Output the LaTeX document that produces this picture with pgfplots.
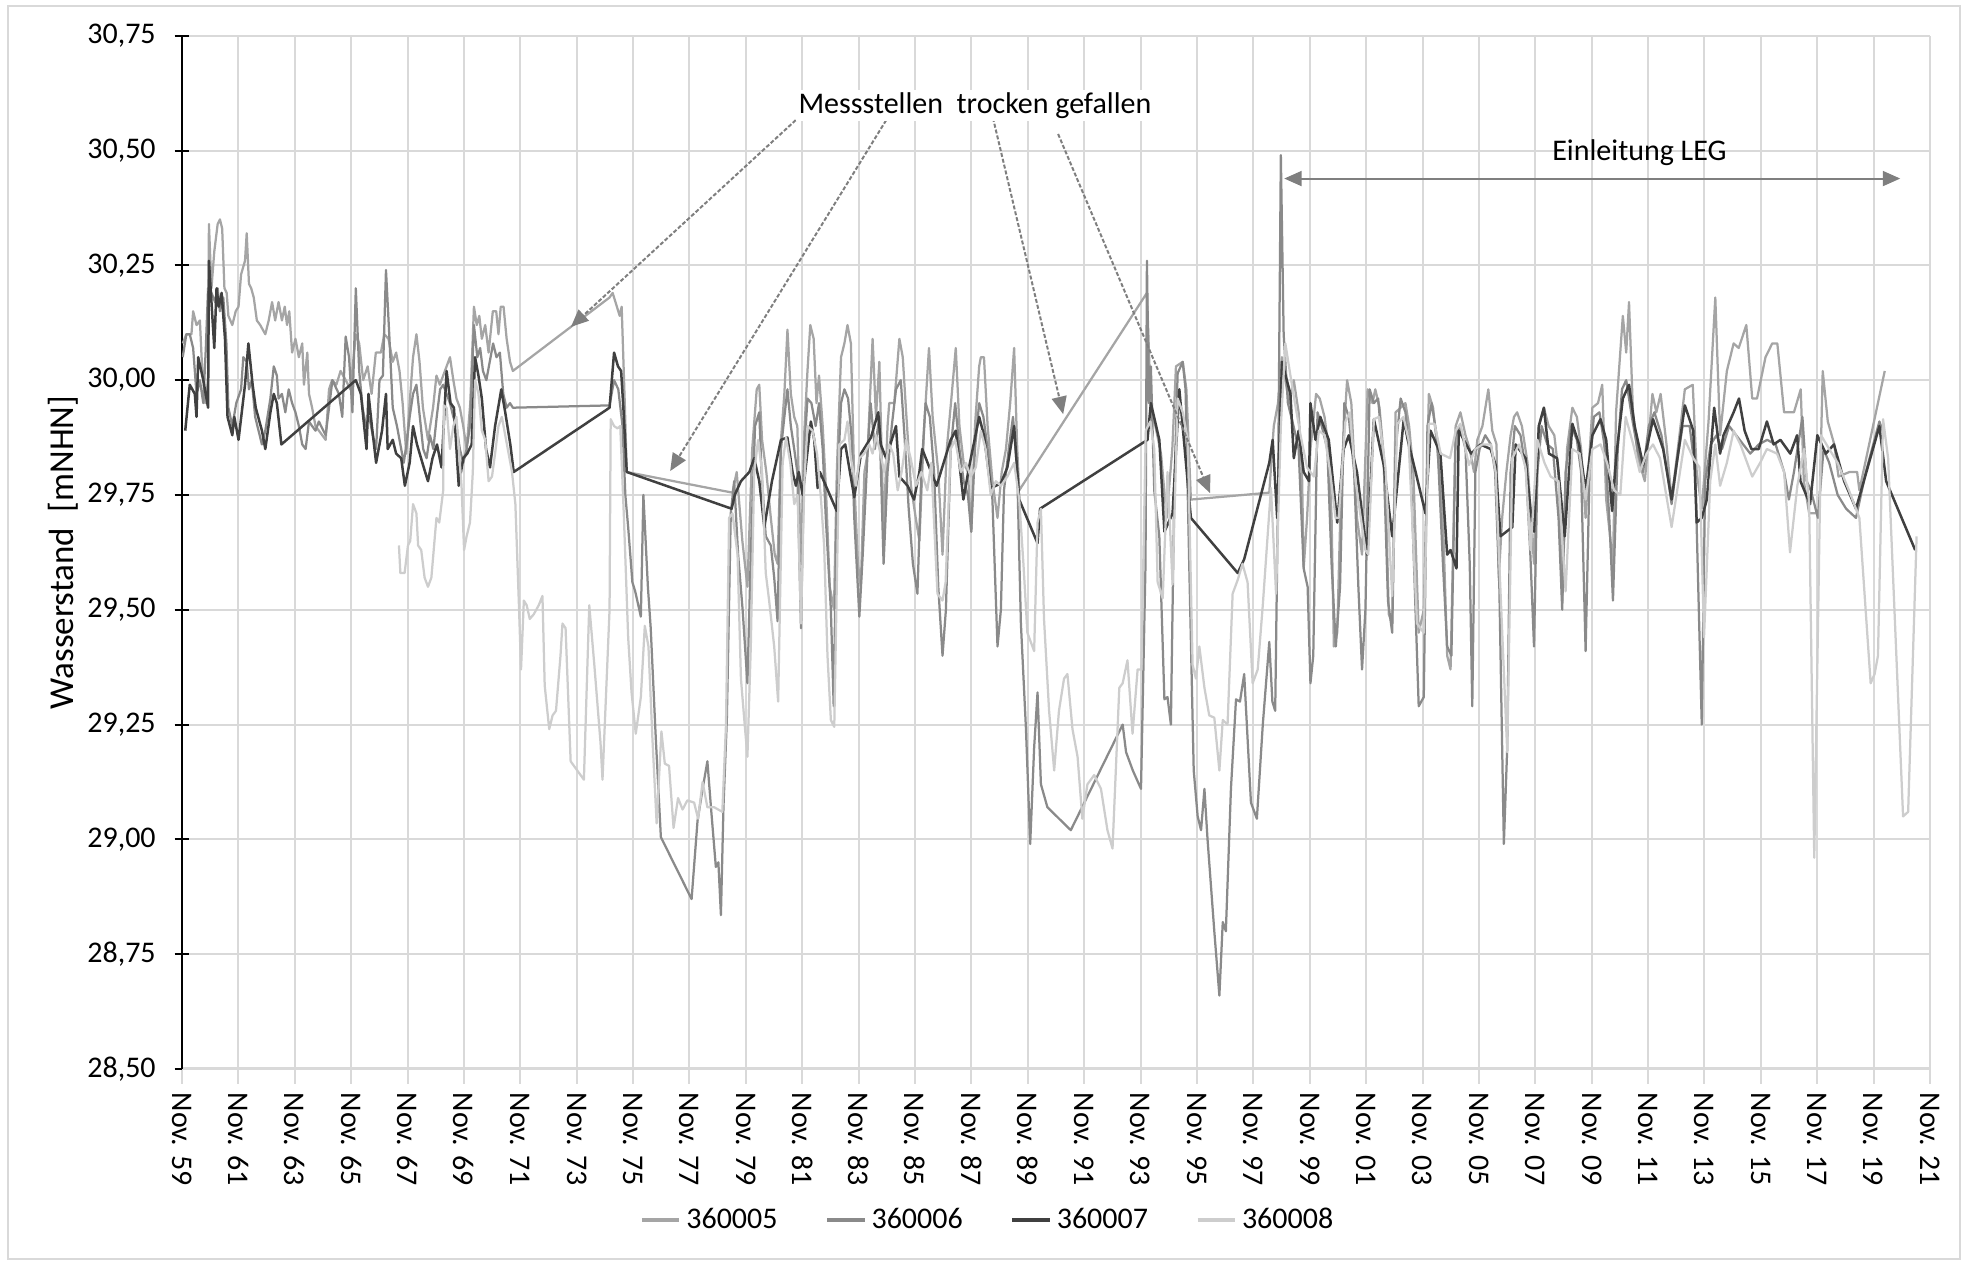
\documentclass[border=0pt]{standalone}
\usepackage{fontspec}
\setmainfont{Carlito}
\usepackage{pgfplots}
\pgfplotsset{compat=1.18}
\usetikzlibrary{arrows.meta}
\definecolor{gridc}{HTML}{D9D9D9}
\definecolor{sA}{HTML}{A5A5A5}
\definecolor{sB}{HTML}{8A8A8A}
\definecolor{sC}{HTML}{404040}
\definecolor{sD}{HTML}{CDCDCD}
\definecolor{annc}{HTML}{7F7F7F}
\begin{document}
\begin{tikzpicture}
\path[use as bounding box] (0,0) rectangle (787.2pt,505.2pt);
\draw[gridc, line width=0.8pt] (3.2pt,1.6pt) rectangle (784pt,502.8pt);
\begin{axis}[
  at={(72.8pt,77.6pt)}, anchor=south west,
  scale only axis, width=699.2pt, height=413.3pt,
  xmin=1959.875, xmax=2021.875, ymin=28.5, ymax=30.75,
  axis lines*=left,
  x axis line style={gridc, line width=1.2pt},
  y axis line style={black, line width=0.8pt},
  grid=major,
  major grid style={gridc, line width=0.8pt},
  major tick length=6pt,
  xtick align=outside, ytick align=center,
  xtick style={gridc, line width=0.8pt},
  ytick style={black, line width=0.8pt},
  xtick={1959.875,1961.875,1963.875,1965.875,1967.875,1969.875,1971.875,1973.875,1975.875,1977.875,1979.875,1981.875,1983.875,1985.875,1987.875,1989.875,1991.875,1993.875,1995.875,1997.875,1999.875,2001.875,2003.875,2005.875,2007.875,2009.875,2011.875,2013.875,2015.875,2017.875,2019.875,2021.875},
  xticklabels={Nov. 59,Nov. 61,Nov. 63,Nov. 65,Nov. 67,Nov. 69,Nov. 71,Nov. 73,Nov. 75,Nov. 77,Nov. 79,Nov. 81,Nov. 83,Nov. 85,Nov. 87,Nov. 89,Nov. 91,Nov. 93,Nov. 95,Nov. 97,Nov. 99,Nov. 01,Nov. 03,Nov. 05,Nov. 07,Nov. 09,Nov. 11,Nov. 13,Nov. 15,Nov. 17,Nov. 19,Nov. 21},
  ytick={28.5,28.75,29,29.25,29.5,29.75,30,30.25,30.5,30.75},
  /pgf/number format/assume math mode=true,
  ticklabel style={font=\fontsize{12}{14}\selectfont},
  yticklabel style={xshift=-4pt, /pgf/number format/.cd, fixed, fixed zerofill, precision=2, use comma},
  xticklabel style={rotate=-90, anchor=west},
  legend style={at={(axis description cs:0.4617,-0.1461)}, anchor=center, draw=none, fill=none,
    font=\fontsize{12}{14}\selectfont, /tikz/every even column/.append style={column sep=17pt}},
  legend columns=4,
  legend image code/.code={\draw[#1, line width=1.6pt] (0pt,0pt) -- (15pt,0pt);},
  every axis plot/.append style={line width=0.9pt, line join=round},
  clip mode=individual,
]
% 360005
\addplot[sA] table {
1959.90 30.08
1960.03 30.10
1960.21 30.10
1960.27 30.15
1960.39 30.12
1960.51 30.13
1960.57 30.05
1960.70 29.95
1960.80 30.00
1960.83 30.34
1960.92 30.20
1961.02 30.28
1961.14 30.34
1961.22 30.35
1961.30 30.33
1961.38 30.20
1961.46 30.19
1961.52 30.14
1961.66 30.12
1961.78 30.15
1961.88 30.16
1961.97 30.23
1962.11 30.26
1962.17 30.32
1962.25 30.21
1962.33 30.20
1962.42 30.18
1962.53 30.13
1962.65 30.12
1962.83 30.10
1962.95 30.13
1963.07 30.17
1963.18 30.13
1963.30 30.17
1963.42 30.13
1963.52 30.16
1963.60 30.12
1963.68 30.15
1963.78 30.06
1963.90 30.09
1964.02 30.05
1964.14 30.08
1964.20 29.99
1964.32 30.06
1964.38 29.97
1964.49 29.94
1964.61 29.90
1964.73 29.89
1964.85 29.88
1964.97 29.87
1965.09 29.98
1965.20 30.00
1965.35 29.99
1965.50 30.02
1965.68 30.00
1965.85 29.98
1966.04 30.10
1966.16 30.08
1966.30 30.00
1966.46 30.03
1966.60 29.97
1966.75 30.06
1966.93 30.06
1967.05 30.10
1967.20 30.09
1967.35 30.04
1967.47 30.06
1967.59 30.02
1967.70 29.95
1967.83 29.84
1967.95 29.95
1968.07 30.05
1968.19 30.10
1968.30 30.04
1968.42 29.94
1968.60 29.87
1968.78 29.94
1968.90 30.01
1969.02 29.99
1969.26 30.03
1969.38 30.05
1969.50 30.00
1969.61 29.96
1969.73 29.94
1969.85 29.90
1969.97 29.85
1970.10 29.95
1970.23 30.16
1970.33 30.12
1970.42 30.14
1970.51 30.09
1970.63 30.12
1970.75 30.06
1970.90 30.15
1971.02 30.15
1971.10 30.10
1971.18 30.16
1971.28 30.16
1971.39 30.09
1971.51 30.04
1971.61 30.02
1975.04 30.18
1975.15 30.19
1975.30 30.16
1975.40 30.14
1975.47 30.16
1975.58 29.95
1975.65 29.80
1979.40 29.755
1979.55 29.80
1979.75 29.65
1979.93 29.55
1980.10 29.85
1980.26 29.98
1980.35 29.99
1980.45 29.87
1980.60 29.80
1980.76 29.70
1980.90 29.62
1981.00 29.60
1981.12 29.87
1981.24 29.97
1981.35 30.11
1981.47 29.97
1981.59 29.92
1981.70 29.90
1981.83 29.60
1981.95 29.89
1982.06 30.02
1982.16 30.12
1982.28 30.09
1982.38 29.95
1982.47 30.01
1982.60 29.90
1982.71 29.77
1982.85 29.55
1983.00 29.50
1983.10 29.80
1983.25 30.05
1983.37 30.08
1983.48 30.12
1983.60 30.08
1983.72 29.78
1983.85 29.60
1983.95 29.55
1984.08 29.80
1984.19 29.84
1984.37 30.09
1984.49 29.92
1984.61 30.04
1984.76 29.67
1984.90 29.90
1984.96 29.95
1985.14 29.95
1985.32 30.09
1985.44 30.05
1985.56 29.93
1985.73 29.77
1985.90 29.70
1986.03 29.65
1986.20 29.90
1986.37 30.07
1986.50 29.92
1986.70 29.80
1986.85 29.62
1987.00 29.85
1987.15 29.95
1987.32 30.07
1987.45 29.90
1987.60 29.82
1987.75 29.80
1987.87 29.67
1988.00 29.90
1988.15 30.03
1988.21 30.05
1988.32 30.05
1988.45 29.90
1988.62 29.78
1988.80 29.70
1988.95 29.80
1989.10 29.85
1989.25 29.95
1989.39 30.07
1989.50 29.85
1989.57 29.76
1994.10 30.19
1994.24 29.94
1994.40 29.90
1994.60 29.84
1994.80 29.70
1995.00 29.85
1995.13 30.03
1995.37 30.04
1995.50 29.98
1995.66 29.74
1998.44 29.755
1998.60 29.90
1998.75 29.95
1998.89 30.05
1999.01 30.00
1999.15 29.95
1999.31 30.00
1999.48 29.93
1999.60 29.80
1999.66 29.59
1999.78 29.70
1999.90 29.85
2000.10 29.97
2000.23 29.96
2000.40 29.92
2000.55 29.85
2000.65 29.70
2000.73 29.42
2000.85 29.45
2001.00 29.80
2001.20 30.00
2001.35 29.95
2001.55 29.70
2001.73 29.62
2001.93 29.98
2002.10 29.95
2002.20 29.98
2002.35 29.94
2002.55 29.80
2002.68 29.49
2002.80 29.47
2002.92 29.93
2003.10 29.94
2003.27 29.95
2003.40 29.90
2003.55 29.80
2003.74 29.45
2003.92 29.50
2004.10 29.97
2004.25 29.94
2004.40 29.85
2004.60 29.70
2004.75 29.40
2004.87 29.37
2005.05 29.90
2005.22 29.93
2005.40 29.88
2005.55 29.85
2005.70 29.80
2005.82 29.87
2006.00 29.90
2006.21 29.98
2006.35 29.89
2006.50 29.86
2006.58 29.57
2006.70 29.70
2006.85 29.80
2007.00 29.88
2007.12 29.92
2007.23 29.93
2007.40 29.90
2007.60 29.82
2007.83 29.60
2008.00 29.90
2008.18 29.94
2008.35 29.90
2008.55 29.88
2008.70 29.80
2008.83 29.52
2009.00 29.85
2009.19 29.94
2009.35 29.92
2009.50 29.85
2009.66 29.70
2009.90 29.94
2010.10 29.95
2010.25 29.99
2010.39 29.74
2010.63 29.60
2010.74 29.93
2010.98 30.14
2011.10 30.06
2011.20 30.17
2011.34 29.93
2011.52 29.83
2011.76 29.78
2012.03 29.97
2012.17 29.93
2012.32 29.97
2012.53 29.86
2012.71 29.74
2012.95 29.86
2013.18 29.98
2013.46 29.99
2013.60 29.80
2013.78 29.72
2014.02 29.91
2014.26 30.18
2014.43 29.88
2014.67 30.02
2014.91 30.08
2015.09 30.07
2015.36 30.12
2015.57 29.96
2015.74 29.96
2016.04 30.05
2016.28 30.08
2016.46 30.08
2016.70 29.93
2017.05 29.93
2017.29 29.98
2017.40 29.78
2017.59 29.71
2017.95 29.71
2018.07 30.02
2018.25 29.91
2018.48 29.86
2018.63 29.79
2019.02 29.80
2019.29 29.80
2019.37 29.76
2020.27 30.02
};
\addlegendentry{360005}
% 360006
\addplot[sB] table {
1959.90 30.05
1960.03 30.10
1960.15 30.10
1960.27 30.07
1960.39 29.97
1960.51 30.00
1960.63 29.95
1960.72 30.07
1960.80 30.20
1960.92 30.19
1961.05 30.17
1961.14 30.20
1961.22 30.15
1961.34 30.18
1961.45 30.08
1961.52 29.94
1961.66 29.90
1961.80 29.95
1961.97 29.98
1962.05 30.05
1962.17 30.04
1962.25 29.98
1962.35 30.00
1962.47 29.92
1962.59 29.89
1962.71 29.86
1962.83 29.89
1963.01 29.96
1963.13 30.03
1963.24 30.01
1963.30 29.96
1963.42 29.97
1963.54 29.93
1963.66 29.98
1963.78 29.95
1963.90 29.93
1964.02 29.90
1964.14 29.86
1964.26 29.85
1964.38 29.91
1964.49 29.90
1964.61 29.89
1964.73 29.91
1964.97 29.88
1965.09 29.94
1965.21 30.00
1965.44 29.97
1965.56 29.92
1965.68 30.095
1965.80 30.05
1965.92 29.93
1966.04 30.20
1966.16 30.02
1966.28 29.94
1966.40 29.90
1966.52 29.92
1966.64 29.88
1966.76 29.85
1966.88 30.00
1967.00 30.01
1967.11 30.24
1967.23 30.095
1967.35 29.94
1967.50 29.90
1967.62 29.86
1967.74 29.82
1967.86 29.87
1967.95 29.92
1968.07 29.97
1968.19 29.99
1968.31 29.92
1968.43 29.85
1968.55 29.83
1968.67 29.88
1968.79 29.85
1968.91 29.92
1969.03 29.98
1969.14 29.99
1969.26 29.97
1969.38 29.95
1969.50 29.92
1969.61 29.90
1969.73 29.85
1969.85 29.82
1969.97 29.85
1970.09 29.90
1970.23 30.12
1970.35 30.05
1970.45 30.07
1970.55 30.02
1970.67 30.00
1970.79 30.04
1970.91 30.08
1971.03 30.05
1971.15 30.06
1971.27 29.97
1971.39 29.94
1971.51 29.95
1971.61 29.94
1975.04 29.945
1975.20 30.00
1975.35 29.98
1975.50 29.90
1975.60 29.75
1975.70 29.68
1975.85 29.56
1975.95 29.54
1976.15 29.485
1976.24 29.75
1976.40 29.55
1976.50 29.46
1976.68 29.22
1976.86 29.005
1977.95 28.87
1978.16 29.04
1978.34 29.11
1978.51 29.17
1978.65 29.06
1978.81 28.94
1978.90 28.95
1978.99 28.835
1979.08 29.07
1979.20 29.26
1979.34 29.71
1979.46 29.78
1979.60 29.62
1979.76 29.50
1979.93 29.34
1980.05 29.62
1980.20 29.90
1980.35 29.93
1980.43 29.80
1980.58 29.66
1980.76 29.64
1980.88 29.57
1981.00 29.475
1981.12 29.85
1981.24 29.92
1981.35 29.98
1981.47 29.90
1981.59 29.85
1981.70 29.80
1981.83 29.46
1981.95 29.85
1982.06 29.96
1982.20 29.95
1982.35 29.90
1982.47 29.95
1982.60 29.85
1982.71 29.70
1982.89 29.50
1982.99 29.29
1983.10 29.74
1983.25 29.95
1983.37 29.98
1983.50 29.96
1983.62 29.88
1983.72 29.70
1983.90 29.485
1984.02 29.62
1984.19 29.84
1984.30 29.95
1984.45 29.85
1984.61 29.92
1984.76 29.60
1984.90 29.80
1985.05 29.90
1985.20 29.98
1985.37 30.00
1985.50 29.88
1985.65 29.72
1985.80 29.60
1985.96 29.535
1986.10 29.80
1986.25 29.95
1986.40 29.92
1986.55 29.80
1986.70 29.55
1986.85 29.40
1986.97 29.50
1987.14 29.85
1987.30 29.95
1987.45 29.85
1987.60 29.78
1987.75 29.75
1987.87 29.67
1988.00 29.85
1988.15 29.95
1988.30 29.92
1988.45 29.85
1988.62 29.74
1988.80 29.42
1988.92 29.50
1989.03 29.76
1989.20 29.85
1989.35 29.92
1989.50 29.80
1989.63 29.47
1989.81 29.24
1989.96 28.99
1990.10 29.20
1990.22 29.32
1990.34 29.12
1990.57 29.07
1991.40 29.02
1993.24 29.25
1993.36 29.19
1993.60 29.15
1993.89 29.11
1994.05 29.60
1994.10 30.26
1994.17 29.95
1994.24 30.03
1994.36 29.76
1994.54 29.66
1994.72 29.305
1994.83 29.31
1994.95 29.25
1995.07 29.76
1995.19 30.015
1995.37 30.04
1995.47 29.98
1995.60 29.60
1995.76 29.15
1995.90 29.05
1996.02 29.02
1996.14 29.11
1996.25 29.00
1996.49 28.80
1996.67 28.66
1996.79 28.82
1996.90 28.80
1997.08 29.11
1997.26 29.305
1997.40 29.30
1997.55 29.36
1997.79 29.08
1998.00 29.045
1998.21 29.25
1998.44 29.43
1998.55 29.30
1998.65 29.28
1998.75 29.75
1998.85 30.49
1998.95 30.10
1999.10 29.95
1999.30 29.90
1999.48 29.85
1999.66 29.59
1999.80 29.55
1999.90 29.34
2000.00 29.40
2000.15 29.93
2000.30 29.90
2000.50 29.85
2000.65 29.60
2000.80 29.42
2000.95 29.55
2001.10 29.95
2001.26 29.92
2001.45 29.80
2001.60 29.55
2001.73 29.37
2001.85 29.50
2002.00 29.98
2002.15 29.95
2002.30 29.96
2002.50 29.82
2002.65 29.52
2002.80 29.45
2002.92 29.85
2003.10 29.96
2003.27 29.93
2003.45 29.82
2003.60 29.55
2003.74 29.29
2003.92 29.31
2004.05 29.90
2004.20 29.95
2004.40 29.87
2004.60 29.60
2004.75 29.42
2004.90 29.40
2005.05 29.88
2005.20 29.90
2005.40 29.85
2005.55 29.60
2005.64 29.29
2005.75 29.80
2005.90 29.85
2006.10 29.88
2006.30 29.86
2006.45 29.80
2006.60 29.55
2006.76 28.99
2006.88 29.20
2007.00 29.80
2007.15 29.90
2007.35 29.88
2007.55 29.80
2007.70 29.62
2007.83 29.42
2007.95 29.80
2008.10 29.90
2008.30 29.86
2008.50 29.85
2008.70 29.70
2008.83 29.50
2008.95 29.80
2009.15 29.90
2009.35 29.87
2009.50 29.80
2009.66 29.41
2009.80 29.80
2009.95 29.92
2010.15 29.93
2010.35 29.85
2010.50 29.70
2010.63 29.52
2010.80 29.85
2010.95 29.98
2011.10 30.00
2011.30 29.92
2011.50 29.85
2011.70 29.80
2011.90 29.90
2012.10 29.93
2012.35 29.88
2012.55 29.80
2012.71 29.73
2012.90 29.82
2013.10 29.90
2013.35 29.90
2013.55 29.80
2013.78 29.25
2013.90 29.78
2014.10 29.86
2014.30 29.88
2014.50 29.85
2014.75 29.90
2015.00 29.88
2015.25 29.86
2015.50 29.84
2015.80 29.86
2016.10 29.87
2016.40 29.86
2016.70 29.80
2016.87 29.74
2017.05 29.80
2017.20 29.86
2017.35 29.92
2017.50 29.78
2017.65 29.76
2017.90 29.70
2018.10 29.85
2018.30 29.82
2018.60 29.75
2018.90 29.72
2019.25 29.70
2019.60 29.80
2020.08 29.91
2020.25 29.88
};
\addlegendentry{360006}
% 360007
\addplot[sC, line width=1pt] table {
1959.99 29.89
1960.15 29.99
1960.33 29.97
1960.39 29.92
1960.45 30.05
1960.63 30.00
1960.80 29.94
1960.83 30.26
1961.02 30.07
1961.10 30.20
1961.18 30.16
1961.28 30.19
1961.40 30.09
1961.49 29.92
1961.66 29.88
1961.73 29.92
1961.88 29.87
1962.11 29.99
1962.23 30.08
1962.38 29.99
1962.49 29.94
1962.71 29.89
1962.83 29.85
1963.01 29.93
1963.13 29.97
1963.24 29.95
1963.40 29.86
1966.04 30.00
1966.22 29.97
1966.42 29.85
1966.49 29.97
1966.61 29.90
1966.76 29.82
1966.97 29.89
1967.11 29.97
1967.17 29.85
1967.35 29.87
1967.47 29.84
1967.65 29.83
1967.78 29.77
1967.95 29.82
1968.07 29.90
1968.21 29.86
1968.45 29.81
1968.60 29.78
1968.76 29.83
1968.92 29.86
1969.08 29.81
1969.26 30.02
1969.40 29.95
1969.52 29.94
1969.69 29.77
1969.85 29.83
1969.99 29.84
1970.15 29.86
1970.27 30.05
1970.39 30.01
1970.51 29.96
1970.66 29.85
1970.80 29.81
1970.98 29.90
1971.20 29.98
1971.34 29.93
1971.52 29.86
1971.64 29.80
1975.04 29.94
1975.20 30.06
1975.34 30.03
1975.45 30.02
1975.53 29.94
1975.65 29.80
1979.37 29.72
1979.48 29.75
1979.70 29.78
1980.00 29.80
1980.17 29.83
1980.35 29.78
1980.53 29.68
1980.80 29.78
1981.12 29.87
1981.35 29.875
1981.53 29.80
1981.65 29.77
1981.75 29.80
1981.89 29.75
1982.18 29.91
1982.30 29.87
1982.42 29.765
1982.50 29.80
1983.10 29.715
1983.25 29.85
1983.40 29.86
1983.72 29.745
1983.96 29.84
1984.31 29.875
1984.57 29.93
1984.66 29.86
1984.85 29.83
1985.20 29.90
1985.32 29.79
1985.61 29.77
1985.84 29.74
1986.03 29.80
1986.13 29.85
1986.64 29.77
1987.14 29.87
1987.32 29.89
1987.59 29.74
1987.79 29.81
1988.15 29.92
1988.32 29.88
1988.56 29.765
1988.92 29.775
1989.15 29.81
1989.39 29.90
1989.57 29.74
1990.22 29.645
1990.31 29.72
1994.12 29.87
1994.24 29.95
1994.54 29.87
1994.72 29.67
1995.01 29.71
1995.25 29.98
1995.66 29.70
1997.32 29.58
1997.55 29.61
1998.44 29.82
1998.56 29.87
1998.72 29.70
1998.89 30.04
1999.19 29.97
1999.31 29.83
1999.48 29.89
1999.66 29.80
1999.85 29.78
1999.90 29.95
2000.08 29.87
2000.25 29.92
2000.55 29.87
2000.85 29.69
2001.08 29.85
2001.26 29.88
2001.55 29.80
2001.91 29.62
2002.15 29.915
2002.50 29.815
2002.80 29.66
2003.21 29.915
2003.35 29.87
2003.63 29.80
2003.98 29.71
2004.16 29.89
2004.51 29.84
2004.75 29.62
2004.87 29.63
2005.08 29.59
2005.16 29.89
2005.34 29.87
2005.60 29.84
2005.93 29.86
2006.29 29.85
2006.47 29.815
2006.64 29.66
2007.06 29.68
2007.18 29.86
2007.53 29.83
2007.71 29.715
2007.83 29.67
2008.00 29.90
2008.18 29.94
2008.36 29.84
2008.65 29.83
2008.92 29.66
2009.19 29.905
2009.43 29.86
2009.66 29.76
2009.90 29.88
2010.19 29.915
2010.39 29.87
2010.60 29.715
2010.74 29.83
2010.98 29.96
2011.20 29.99
2011.40 29.90
2011.70 29.815
2012.05 29.915
2012.41 29.85
2012.71 29.74
2013.18 29.945
2013.48 29.89
2013.60 29.69
2013.78 29.70
2013.96 29.74
2014.22 29.94
2014.43 29.84
2014.55 29.88
2014.91 29.93
2015.10 29.96
2015.30 29.89
2015.54 29.85
2015.80 29.85
2016.09 29.91
2016.33 29.86
2016.57 29.87
2016.92 29.84
2017.16 29.88
2017.28 29.78
2017.62 29.73
2017.88 29.88
2018.18 29.84
2018.47 29.86
2018.83 29.78
2019.25 29.72
2020.08 29.90
2020.32 29.78
2021.35 29.63
};
\addlegendentry{360007}
% 360008
\addplot[sD] table {
1967.57 29.64
1967.62 29.58
1967.77 29.58
1967.89 29.64
1967.97 29.65
1968.07 29.73
1968.19 29.71
1968.25 29.64
1968.36 29.63
1968.48 29.57
1968.60 29.55
1968.72 29.57
1968.90 29.70
1969.00 29.69
1969.14 29.76
1969.16 29.945
1969.26 29.94
1969.38 29.85
1969.50 29.90
1969.61 29.92
1969.79 29.77
1969.88 29.63
1969.97 29.66
1970.09 29.69
1970.19 29.80
1970.27 30.00
1970.39 29.97
1970.51 29.89
1970.63 29.87
1970.75 29.78
1970.87 29.79
1970.98 29.84
1971.10 29.90
1971.22 29.92
1971.34 29.88
1971.46 29.84
1971.58 29.80
1971.70 29.73
1971.82 29.52
1971.90 29.37
1972.00 29.52
1972.10 29.51
1972.21 29.48
1972.35 29.49
1972.53 29.51
1972.66 29.53
1972.74 29.335
1972.90 29.24
1973.02 29.27
1973.14 29.28
1973.30 29.40
1973.37 29.47
1973.48 29.46
1973.66 29.17
1974.13 29.13
1974.32 29.51
1974.50 29.38
1974.72 29.21
1974.79 29.13
1975.04 29.50
1975.08 29.915
1975.20 29.90
1975.32 29.895
1975.42 29.90
1975.55 29.70
1975.70 29.44
1975.82 29.32
1975.97 29.23
1976.15 29.31
1976.29 29.465
1976.42 29.42
1976.56 29.22
1976.71 29.035
1976.88 29.235
1977.00 29.165
1977.15 29.16
1977.31 29.025
1977.47 29.09
1977.63 29.065
1977.80 29.085
1978.04 29.08
1978.18 29.045
1978.34 29.125
1978.51 29.07
1978.75 29.07
1979.04 29.06
1979.17 29.25
1979.28 29.70
1979.40 29.71
1979.58 29.62
1979.70 29.35
1979.82 29.26
1979.93 29.18
1980.05 29.42
1980.17 29.80
1980.31 29.87
1980.45 29.80
1980.58 29.58
1980.70 29.52
1980.88 29.42
1981.02 29.30
1981.18 29.82
1981.30 29.875
1981.45 29.82
1981.59 29.73
1981.71 29.75
1981.83 29.47
1981.95 29.78
1982.06 29.90
1982.24 29.89
1982.40 29.84
1982.54 29.74
1982.65 29.64
1982.77 29.40
1982.89 29.26
1983.01 29.245
1983.19 29.86
1983.37 29.87
1983.48 29.91
1983.60 29.83
1983.78 29.77
1983.90 29.83
1984.07 29.84
1984.25 29.86
1984.37 29.84
1984.49 29.88
1984.65 29.84
1984.78 29.80
1984.96 29.86
1985.10 29.84
1985.26 29.76
1985.40 29.80
1985.56 29.87
1985.72 29.83
1985.91 29.77
1986.10 29.80
1986.31 29.76
1986.45 29.82
1986.67 29.535
1986.85 29.52
1986.96 29.56
1987.14 29.85
1987.30 29.87
1987.50 29.80
1987.68 29.82
1987.85 29.79
1988.03 29.81
1988.21 29.89
1988.38 29.85
1988.56 29.75
1988.74 29.78
1988.92 29.77
1989.15 29.79
1989.39 29.82
1989.57 29.74
1989.72 29.60
1989.86 29.45
1990.10 29.41
1990.22 29.69
1990.34 29.72
1990.45 29.48
1990.63 29.28
1990.81 29.15
1990.98 29.28
1991.16 29.35
1991.28 29.36
1991.46 29.24
1991.64 29.18
1991.81 29.045
1991.99 29.12
1992.23 29.14
1992.47 29.11
1992.70 29.02
1992.88 28.98
1993.12 29.33
1993.24 29.34
1993.41 29.39
1993.59 29.23
1993.77 29.37
1993.90 29.37
1994.06 29.89
1994.22 29.91
1994.36 29.85
1994.48 29.56
1994.66 29.525
1994.83 29.80
1995.01 29.555
1995.19 29.96
1995.37 29.93
1995.55 29.87
1995.72 29.38
1995.84 29.35
1995.96 29.42
1996.14 29.33
1996.31 29.27
1996.49 29.265
1996.67 29.15
1996.79 29.26
1996.96 29.25
1997.14 29.535
1997.32 29.565
1997.49 29.60
1997.67 29.56
1997.85 29.34
1998.03 29.37
1998.21 29.51
1998.38 29.66
1998.50 29.765
1998.68 29.535
1998.85 29.90
1999.01 30.08
1999.19 30.01
1999.35 29.95
1999.55 29.88
1999.78 29.81
2000.02 29.79
2000.20 29.89
2000.40 29.88
2000.60 29.80
2000.79 29.70
2000.90 29.70
2001.14 29.91
2001.30 29.93
2001.50 29.78
2001.85 29.63
2001.95 29.62
2002.15 29.915
2002.33 29.92
2002.56 29.81
2002.80 29.53
2002.98 29.905
2003.20 29.92
2003.38 29.87
2003.68 29.47
2003.92 29.45
2004.10 29.905
2004.30 29.905
2004.52 29.84
2004.85 29.83
2005.05 29.89
2005.22 29.905
2005.52 29.815
2005.75 29.85
2006.00 29.86
2006.30 29.86
2006.47 29.80
2006.58 29.63
2006.88 29.19
2007.06 29.83
2007.30 29.86
2007.53 29.81
2007.71 29.63
2007.95 29.87
2008.20 29.82
2008.42 29.79
2008.70 29.78
2008.95 29.54
2009.19 29.85
2009.45 29.84
2009.66 29.74
2009.90 29.85
2010.19 29.86
2010.42 29.82
2010.67 29.76
2010.89 29.75
2011.08 29.92
2011.35 29.86
2011.58 29.80
2011.82 29.84
2012.05 29.86
2012.30 29.83
2012.71 29.68
2013.18 29.87
2013.48 29.83
2013.70 29.81
2013.86 29.44
2014.08 29.78
2014.26 29.86
2014.43 29.77
2014.67 29.82
2014.91 29.89
2015.15 29.86
2015.57 29.79
2015.85 29.82
2016.09 29.85
2016.45 29.84
2016.70 29.80
2016.91 29.625
2017.17 29.77
2017.41 29.85
2017.59 29.73
2017.77 28.96
2018.01 29.88
2018.30 29.85
2018.60 29.82
2019.00 29.76
2019.37 29.70
2019.77 29.34
2019.91 29.36
2020.03 29.40
2020.21 29.915
2020.39 29.83
2020.92 29.05
2021.10 29.06
2021.40 29.66
};
\addlegendentry{360008}
% annotations
\draw[annc, line width=0.8pt, dash pattern=on 1.6pt off 0.8pt, -{Triangle[length=7pt,width=6pt]}] (axis cs:1981.80,30.575) -- (axis cs:1973.67,30.116);
\draw[annc, line width=0.8pt, dash pattern=on 1.6pt off 0.8pt, -{Triangle[length=7pt,width=6pt]}] (axis cs:1984.85,30.566) -- (axis cs:1977.19,29.802);
\draw[annc, line width=0.8pt, dash pattern=on 1.6pt off 0.8pt, -{Triangle[length=7pt,width=6pt]}] (axis cs:1988.64,30.571) -- (axis cs:1991.13,29.926);
\draw[annc, line width=0.8pt, dash pattern=on 1.6pt off 0.8pt, -{Triangle[length=7pt,width=6pt]}] (axis cs:1990.95,30.536) -- (axis cs:1996.34,29.754);
\node[font=\fontsize{12}{14}\selectfont, fill=white, inner sep=1pt] at (axis cs:1988.0,30.598) {Messstellen\ \ trocken gefallen};
\node[font=\fontsize{12}{14}\selectfont] at (axis cs:2011.57,30.496) {Einleitung LEG};
\draw[annc, line width=0.8pt, {Triangle[length=7pt,width=6pt]}-{Triangle[length=7pt,width=6pt]}] (axis cs:1998.97,30.439) -- (axis cs:2020.82,30.439);
\end{axis}
\node[rotate=90, font=\fontsize{14}{16}\selectfont] at (25.2pt,284.2pt) {Wasserstand\ \ [mNHN]};
\end{tikzpicture}
\end{document}
